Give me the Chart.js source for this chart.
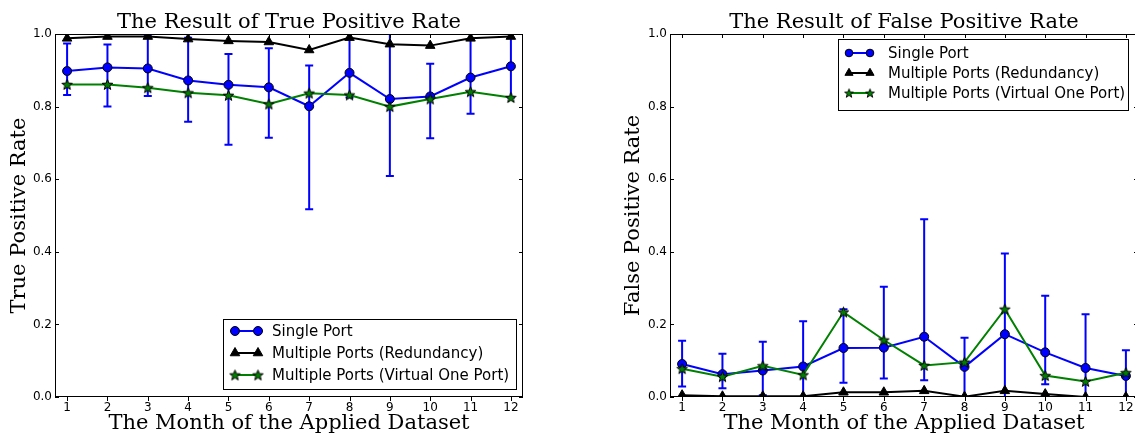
<!DOCTYPE html>
<html>
<head>
<meta charset="utf-8">
<script src="https://cdn.jsdelivr.net/npm/chart.js@4.4.1/dist/chart.umd.min.js"></script>
<style>
    html, body { margin: 0; padding: 0; background: #fff; overflow: hidden; width: 1135px; height: 435px; }
    .wrap { position: absolute; top: 0; }
    #wrap-tpr { left: 0; }
    #wrap-fpr { left: 567px; }
</style>
</head>
<body>
<div class="wrap" id="wrap-tpr"><canvas id="chart-tpr" width="567" height="435"></canvas></div>
<div class="wrap" id="wrap-fpr"><canvas id="chart-fpr" width="600" height="435"></canvas></div>
<script>
// 月份與刻度
const months = [1, 2, 3, 4, 5, 6, 7, 8, 9, 10, 11, 12];
const yTickValues = [0, 0.2, 0.4, 0.6, 0.8, 1.0];
const seriesLabels = ["Single Port", "Multiple Ports (Redundancy)", "Multiple Ports (Virtual One Port)"];

// True Positive Rate
const tprSingle = [0.898, 0.908, 0.905, 0.872, 0.860, 0.853, 0.801, 0.893, 0.821, 0.828, 0.880, 0.911];
const tprSingleLow = [0.832, 0.800, 0.829, 0.758, 0.695, 0.714, 0.517, 0.825, 0.609, 0.713, 0.780, 0.825];
const tprSingleHigh = [0.974, 0.971, 0.996, 0.990, 0.945, 0.961, 0.913, 1.000, 1.030, 0.918, 0.985, 0.990];
const tprRedundancy = [0.988, 0.993, 0.993, 0.986, 0.981, 0.978, 0.956, 0.990, 0.972, 0.968, 0.988, 0.993];
const tprVirtual = [0.861, 0.861, 0.852, 0.838, 0.831, 0.807, 0.837, 0.832, 0.800, 0.821, 0.841, 0.825];

// False Positive Rate
const fprSingle = [0.091, 0.063, 0.073, 0.084, 0.135, 0.136, 0.166, 0.083, 0.173, 0.123, 0.080, 0.058];
const fprSingleLow = [0.029, 0.024, 0.005, -0.04, 0.039, 0.051, 0.046, -0.01, -0.05, 0.035, -0.07, -0.01];
const fprSingleHigh = [0.155, 0.119, 0.152, 0.209, 0.242, 0.304, 0.490, 0.163, 0.395, 0.279, 0.228, 0.129];
const fprRedundancy = [0.005, 0.002, 0.002, 0.002, 0.013, 0.013, 0.017, 0.001, 0.017, 0.008, 0.000, 0.000];
const fprVirtual = [0.078, 0.056, 0.086, 0.061, 0.234, 0.157, 0.087, 0.096, 0.242, 0.059, 0.043, 0.067];

const SANS = '"DejaVu Sans", sans-serif';
const SERIF = '"DejaVu Serif", serif';

// 五角星 marker
function makeStar(size, fill) {
    const c = document.createElement("canvas");
    c.width = c.height = size;
    const g = c.getContext("2d");
    const cx = size / 2, cy = size / 2 + 0.5, R = size / 2 - 1, r = R * 0.42;
    g.beginPath();
    for (let i = 0; i < 10; i++) {
        const ang = -Math.PI / 2 + i * Math.PI / 5;
        const rad = i % 2 ? r : R;
        g.lineTo(cx + rad * Math.cos(ang), cy + rad * Math.sin(ang));
    }
    g.closePath();
    g.fillStyle = fill;
    g.fill();
    g.strokeStyle = "#000";
    g.lineWidth = 1;
    g.stroke();
    return c;
}
const starImg = makeStar(13, "#008000");

function toPoints(vals) {
    return months.map((m, i) => ({ x: m, y: vals[i] }));
}

function makeDatasets(single, redundancy, virtual) {
    return [
        {
            label: seriesLabels[0], data: toPoints(single),
            borderColor: "#0000ff", borderWidth: 2,
            pointStyle: "circle", pointRadius: 4.5,
            pointBackgroundColor: "#0000ff", pointBorderColor: "#000", pointBorderWidth: 1,
            order: 3, clip: 0
        },
        {
            label: seriesLabels[1], data: toPoints(redundancy),
            borderColor: "#000", borderWidth: 2,
            pointStyle: "triangle", pointRadius: 5.5,
            pointBackgroundColor: "#000", pointBorderColor: "#000", pointBorderWidth: 1,
            order: 2, clip: 0
        },
        {
            label: seriesLabels[2], data: toPoints(virtual),
            borderColor: "#008000", borderWidth: 2,
            pointStyle: starImg, pointRadius: 6,
            pointBackgroundColor: "#008000", pointBorderColor: "#000", pointBorderWidth: 1,
            order: 1, clip: 0
        }
    ];
}

// 誤差線
function makeErrorBars(low, high) {
    return {
        id: "errorBars",
        beforeDatasetsDraw(chart) {
            const { ctx, chartArea: a, scales: { x, y } } = chart;
            ctx.save();
            ctx.beginPath();
            ctx.rect(a.left, a.top, a.width, a.height);
            ctx.clip();
            ctx.strokeStyle = "#0000ff";
            ctx.lineWidth = 2;
            months.forEach((m, i) => {
                const px = x.getPixelForValue(m);
                const yl = y.getPixelForValue(low[i]);
                const yh = y.getPixelForValue(high[i]);
                ctx.beginPath();
                ctx.moveTo(px, yl); ctx.lineTo(px, yh);
                ctx.moveTo(px - 4, yl); ctx.lineTo(px + 4, yl);
                ctx.moveTo(px - 4, yh); ctx.lineTo(px + 4, yh);
                ctx.stroke();
            });
            ctx.restore();
        }
    };
}

// 外框與刻度 (matplotlib 風格)
const frameTicks = {
    id: "frameTicks",
    afterDatasetsDraw(chart) {
        const { ctx, chartArea: a, scales: { x, y } } = chart;
        ctx.save();
        ctx.strokeStyle = "#000";
        ctx.lineWidth = 1;
        ctx.strokeRect(Math.round(a.left) + 0.5, Math.round(a.top) + 0.5, Math.round(a.width) - 1, Math.round(a.height) - 1);
        ctx.beginPath();
        x.ticks.forEach(t => {
            const px = Math.round(x.getPixelForValue(t.value)) + 0.5;
            ctx.moveTo(px, a.bottom); ctx.lineTo(px, a.bottom + 4);
            ctx.moveTo(px, a.top); ctx.lineTo(px, a.top + 4);
        });
        y.ticks.forEach(t => {
            const py = Math.round(y.getPixelForValue(t.value)) + 0.5;
            ctx.moveTo(a.left, py); ctx.lineTo(a.left + 4, py);
            ctx.moveTo(a.right, py); ctx.lineTo(a.right - 4, py);
        });
        ctx.stroke();
        ctx.restore();
    }
};

// 標題置中於繪圖區
function makeTitle(text) {
    return {
        id: "plotTitle",
        afterDraw(chart) {
            const { ctx, chartArea: a } = chart;
            ctx.save();
            ctx.fillStyle = "#000";
            ctx.font = "21px " + SERIF;
            ctx.textAlign = "center";
            ctx.textBaseline = "alphabetic";
            ctx.fillText(text, (a.left + a.right) / 2, 28);
            ctx.restore();
        }
    };
}

function drawMarker(ctx, ds, x, y, k) {
    const s = ds.pointStyle;
    if (s instanceof HTMLCanvasElement) {
        const w = s.width * k;
        ctx.drawImage(s, x - w / 2, y - w / 2, w, w);
        return;
    }
    const r = ds.pointRadius * k;
    ctx.fillStyle = ds.pointBackgroundColor;
    ctx.strokeStyle = ds.pointBorderColor;
    ctx.lineWidth = 1;
    ctx.beginPath();
    if (s === "triangle") {
        let rad = 0;
        for (let i = 0; i < 3; i++) {
            ctx.lineTo(x + Math.sin(rad) * r, y - Math.cos(rad) * r);
            rad += Math.PI * 2 / 3;
        }
        ctx.closePath();
    } else {
        ctx.arc(x, y, r, 0, Math.PI * 2);
    }
    ctx.fill();
    ctx.stroke();
}

// 框內圖例
function makeLegend(o) {
    return {
        id: "boxLegend",
        afterDraw(chart) {
            const { ctx, chartArea: a } = chart;
            const left = Math.round(a.right - o.dx - o.width);
            const top = Math.round(o.corner === "br" ? a.bottom - o.dy - o.height : a.top + o.dy);
            ctx.save();
            ctx.fillStyle = "#fff";
            ctx.fillRect(left, top, o.width, o.height);
            ctx.strokeStyle = "#000";
            ctx.lineWidth = 1;
            ctx.strokeRect(left + 0.5, top + 0.5, o.width, o.height);
            chart.data.datasets.forEach((ds, i) => {
                const y = top + o.rowTop + i * o.rowGap;
                const x1 = left + o.lineX[0], x2 = left + o.lineX[1];
                ctx.strokeStyle = ds.borderColor;
                ctx.lineWidth = 2;
                ctx.beginPath();
                ctx.moveTo(x1, y); ctx.lineTo(x2, y);
                ctx.stroke();
                drawMarker(ctx, ds, x1, y, o.markerScale);
                drawMarker(ctx, ds, x2, y, o.markerScale);
                ctx.fillStyle = "#000";
                ctx.font = "15px " + SANS;
                ctx.textAlign = "left";
                ctx.textBaseline = "middle";
                ctx.fillText(ds.label, left + o.textX, y + 1);
            });
            ctx.restore();
        }
    };
}

function buildChart(canvasId, cfg) {
    const ctx = document.getElementById(canvasId).getContext("2d");
    return new Chart(ctx, {
        type: "line",
        data: { datasets: makeDatasets(cfg.single, cfg.redundancy, cfg.virtual) },
        options: {
            responsive: false,
            animation: false,
            layout: { padding: { left: cfg.padLeft, right: cfg.padRight, top: 34, bottom: 0 } },
            elements: { line: { tension: 0 } },
            plugins: { legend: { display: false }, tooltip: { enabled: false } },
            scales: {
                x: {
                    type: "linear", min: 0.7, max: 12.3,
                    afterBuildTicks: s => { s.ticks = months.map(v => ({ value: v })); },
                    afterFit: s => { s.height = 38; },
                    grid: { display: false, drawTicks: false },
                    border: { display: false },
                    ticks: { color: "#000", font: { family: SANS, size: 12 }, padding: 4, maxRotation: 0, autoSkip: false },
                    title: { display: true, text: "The Month of the Applied Dataset", color: "#000",
                             font: { family: SERIF, size: 21 }, padding: { top: 0, bottom: -1 } }
                },
                y: {
                    type: "linear", min: 0, max: 1,
                    afterBuildTicks: s => { s.ticks = yTickValues.map(v => ({ value: v })); },
                    afterFit: s => { s.width = 55; },
                    grid: { display: false, drawTicks: false },
                    border: { display: false },
                    ticks: { color: "#000", font: { family: SANS, size: 12 }, padding: 3,
                             callback: v => v.toFixed(1) },
                    title: { display: true, text: cfg.yTitle, color: "#000",
                             font: { family: SERIF, size: 21 }, padding: { top: cfg.yTitlePad, bottom: 0 } }
                }
            }
        },
        plugins: [makeErrorBars(cfg.low, cfg.high), frameTicks, makeTitle(cfg.title), makeLegend(cfg.legend)]
    });
}

buildChart("chart-tpr", {
    single: tprSingle, redundancy: tprRedundancy, virtual: tprVirtual,
    low: tprSingleLow, high: tprSingleHigh,
    title: "The Result of True Positive Rate", yTitle: "True Positive Rate",
    padLeft: 0, padRight: 44, yTitlePad: 7.4,
    legend: { corner: "br", dx: 7, dy: 8, width: 293, height: 70, rowTop: 12, rowGap: 22,
              lineX: [12, 35], textX: 49, markerScale: 1 }
});

buildChart("chart-fpr", {
    single: fprSingle, redundancy: fprRedundancy, virtual: fprVirtual,
    low: fprSingleLow, high: fprSingleHigh,
    title: "The Result of False Positive Rate", yTitle: "False Positive Rate",
    padLeft: 48, padRight: 29, yTitlePad: 6.4,
    legend: { corner: "tr", dx: 10, dy: 5, width: 290, height: 71, rowTop: 14, rowGap: 20,
              lineX: [11, 32], textX: 50, markerScale: 0.85 }
});
</script>
</body>
</html>
